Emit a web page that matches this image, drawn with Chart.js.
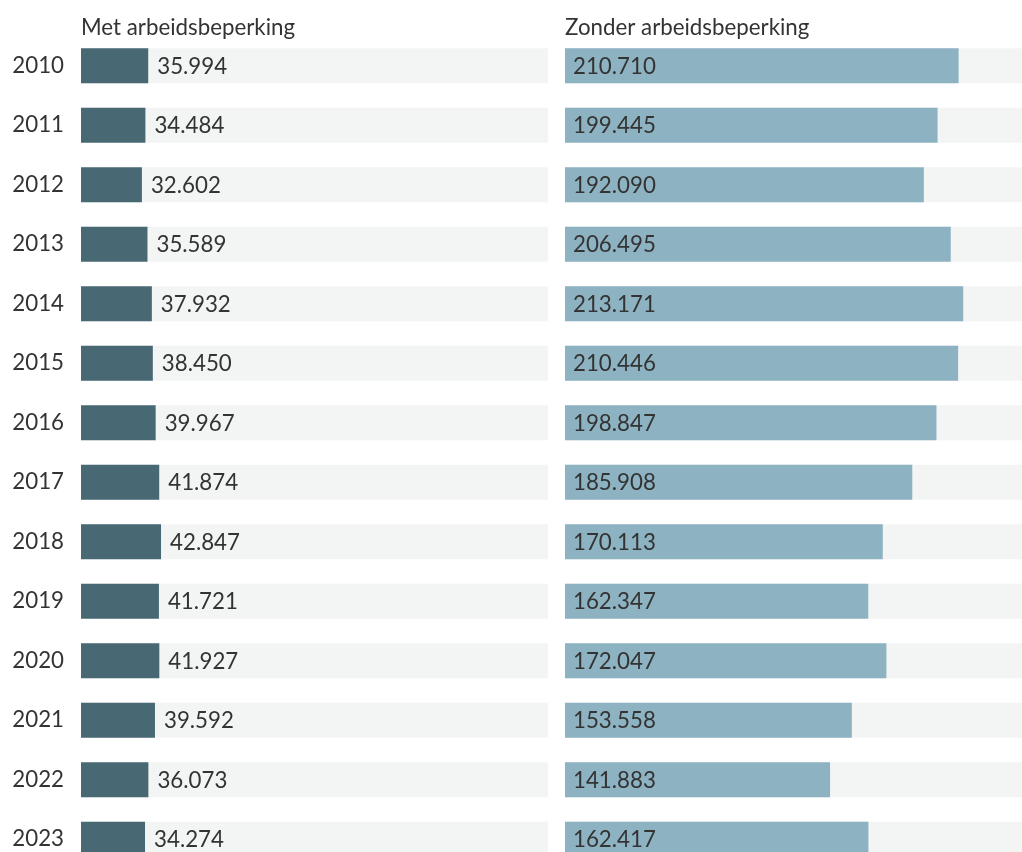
<!DOCTYPE html>
<html lang="nl">
<head>
<meta charset="utf-8">
<script src="https://cdn.jsdelivr.net/npm/chart.js@4/dist/chart.umd.min.js"></script>
<style>
  html, body { margin: 0; padding: 0; background: #fff; overflow: hidden; width: 1022px; height: 852px; }
  canvas { position: absolute; top: 0; }
  #leftChart { left: 0; }
  #rightChart { left: 548px; }
</style>
</head>
<body>
<canvas id="leftChart" width="548" height="870"></canvas>
<canvas id="rightChart" width="484" height="870"></canvas>
<script>
const years = ["2010", "2011", "2012", "2013", "2014", "2015", "2016", "2017", "2018", "2019", "2020", "2021", "2022", "2023"];
const withDisability = [35994, 34484, 32602, 35589, 37932, 38450, 39967, 41874, 42847, 41721, 41927, 39592, 36073, 34274];
const withoutDisability = [210710, 199445, 192090, 206495, 213171, 210446, 198847, 185908, 170113, 162347, 172047, 153558, 141883, 162417];
const panelTitles = ["Met arbeidsbeperking", "Zonder arbeidsbeperking"];
const X_MAX = 250000;

const FONT = "Lato, 'Noto Sans', sans-serif";
const FONT_SIZE = 22.3;
const TEXT_COLOR = "#333333";

function formatNumber(v) {
  return String(v).replace(/\B(?=(\d{3})+(?!\d))/g, ".");
}

// title above the plot area plus value labels next to / inside the bars
function panelText(title, inside) {
  return {
    id: "panelText",
    afterDatasetsDraw(chart) {
      const ctx = chart.ctx;
      const area = chart.chartArea;
      ctx.save();
      ctx.font = `${FONT_SIZE}px ${FONT}`;
      ctx.fillStyle = TEXT_COLOR;
      ctx.textAlign = "left";
      ctx.textBaseline = "alphabetic";
      ctx.fillText(title, area.left, area.top - 1);
      const values = chart.data.datasets[0].data;
      chart.getDatasetMeta(0).data.forEach((bar, i) => {
        const x = inside ? area.left + 8 : bar.x + 9;
        ctx.fillText(formatNumber(values[i]), x, bar.y + 8);
      });
      ctx.restore();
    },
  };
}

function makeChart(id, values, color, title, showYears, inside) {
  return new Chart(document.getElementById(id), {
    type: "bar",
    data: {
      labels: years,
      datasets: [
        {
          data: values,
          backgroundColor: color,
        },
        {
          data: years.map(() => X_MAX),
          backgroundColor: "#f3f4f4",
        },
      ],
    },
    options: {
      indexAxis: "y",
      responsive: false,
      animation: false,
      grouped: false,
      categoryPercentage: 1,
      barPercentage: 35 / 59.5,
      borderWidth: 0,
      layout: {
        padding: { top: 36, bottom: 1, left: showYears ? 0 : 17, right: 0 },
      },
      plugins: {
        legend: { display: false },
        tooltip: { enabled: false },
        title: { display: false },
      },
      scales: {
        x: {
          display: false,
          min: 0,
          max: X_MAX,
        },
        y: {
          display: showYears,
          grid: { display: false, drawTicks: false },
          border: { display: false },
          ticks: {
            color: TEXT_COLOR,
            font: { family: FONT, size: FONT_SIZE },
            padding: 17,
          },
          afterFit(scale) {
            scale.width = showYears ? 81 : 0;
            scale.paddingTop = 0;
            scale.paddingBottom = 0;
          },
        },
      },
    },
    plugins: [panelText(title, inside)],
  });
}

makeChart("leftChart", withDisability, "#486974", panelTitles[0], true, false);
makeChart("rightChart", withoutDisability, "#8db2c2", panelTitles[1], false, true);
</script>
</body>
</html>
